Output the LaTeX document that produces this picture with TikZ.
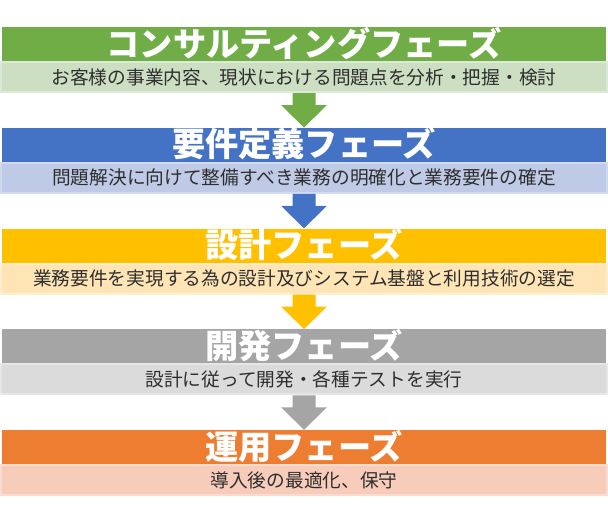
\documentclass[tikz,border=0pt]{standalone}
\usepackage{fontspec}
\newfontfamily\jp{Noto Sans CJK JP}
\usetikzlibrary{calc}
\definecolor{cG}{HTML}{70AD47}\definecolor{cGl}{HTML}{CCDFC3}\definecolor{cGb}{HTML}{DCE9D6}
\definecolor{cB}{HTML}{4472C4}\definecolor{cBl}{HTML}{BFCAE6}\definecolor{cBb}{HTML}{D2DAEE}
\definecolor{cY}{HTML}{FFC000}\definecolor{cYl}{HTML}{FFE5B5}\definecolor{cYb}{HTML}{FFEDCF}
\definecolor{cK}{HTML}{A5A5A5}\definecolor{cKl}{HTML}{DBDBDB}\definecolor{cKb}{HTML}{E6E6E6}
\definecolor{cO}{HTML}{ED7D31}\definecolor{cOl}{HTML}{F8CCBB}\definecolor{cOb}{HTML}{FADBCF}
\definecolor{subtext}{HTML}{2E2E2E}
\tikzset{
  bar/.style={rectangle, inner sep=0pt, minimum width=604pt, minimum height=34pt, draw=none},
  subbox/.style={rectangle, inner sep=0pt, minimum width=606pt, minimum height=30pt, line width=2pt},
  ttl/.style={anchor=base, inner sep=0pt, text=white, font=\jp\bfseries\fontsize{33.2}{33.2}\selectfont},
  subtxt/.style={anchor=base, inner sep=0pt, text=subtext, font=\jp\fontsize{18.7}{18.7}\selectfont},
}
\newcommand{\phasearrow}[3]{%
  \fill[#3] ($(#1.south)+(-11.5,0)$) -- ($(#1.south)+(11.5,0)$) -- ($(#1.south)+(11.5,12)$)
    -- ($(#1.south)+(23,12)$) -- (#2.north) -- ($(#1.south)+(-23,12)$)
    -- ($(#1.south)+(-11.5,12)$) -- cycle;}
\begin{document}
\begin{tikzpicture}[x=1pt,y=-1pt]
\useasboundingbox (0,0) rectangle (608,509);
% subtitle boxes
\node[subbox, fill=cGl, draw=cGb] (s1) at (304,77) {};
\node[subbox, fill=cBl, draw=cBb] (s2) at (304,177.75) {};
\node[subbox, fill=cYl, draw=cYb] (s3) at (304,278.5) {};
\node[subbox, fill=cKl, draw=cKb] (s4) at (304,379.25) {};
\node[subbox, fill=cOl, draw=cOb] (s5) at (304,480) {};
% title bars
\node[bar, fill=cG] (b1) at (304,44) {};
\node[bar, fill=cB] (b2) at (304,144.75) {};
\node[bar, fill=cY] (b3) at (304,245.5) {};
\node[bar, fill=cK] (b4) at (304,346.25) {};
\node[bar, fill=cO] (b5) at (304,447) {};
% arrows
\phasearrow{s1}{b2}{cG}
\phasearrow{s2}{b3}{cB}
\phasearrow{s3}{b4}{cY}
\phasearrow{s4}{b5}{cK}
% titles
\node[ttl] (t1) at (304,56) {コンサルティングフェーズ};
\node[ttl] (t2) at (304,156.75) {要件定義フェーズ};
\node[ttl] (t3) at (304,257.5) {設計フェーズ};
\node[ttl] (t4) at (304,358.25) {開発フェーズ};
\node[ttl] (t5) at (304,459) {運用フェーズ};
% subtitles
\node[subtxt] (u1) at (304,84) {お客様の事業内容、現状における問題点を分析・把握・検討};
\node[subtxt] (u2) at (304,184.75) {問題解決に向けて整備すべき業務の明確化と業務要件の確定};
\node[subtxt] (u3) at (304,285.5) {業務要件を実現する為の設計及びシステム基盤と利用技術の選定};
\node[subtxt] (u4) at (304,386.25) {設計に従って開発・各種テストを実行};
\node[subtxt] (u5) at (304,487) {導入後の最適化、保守};
\end{tikzpicture}
\end{document}
